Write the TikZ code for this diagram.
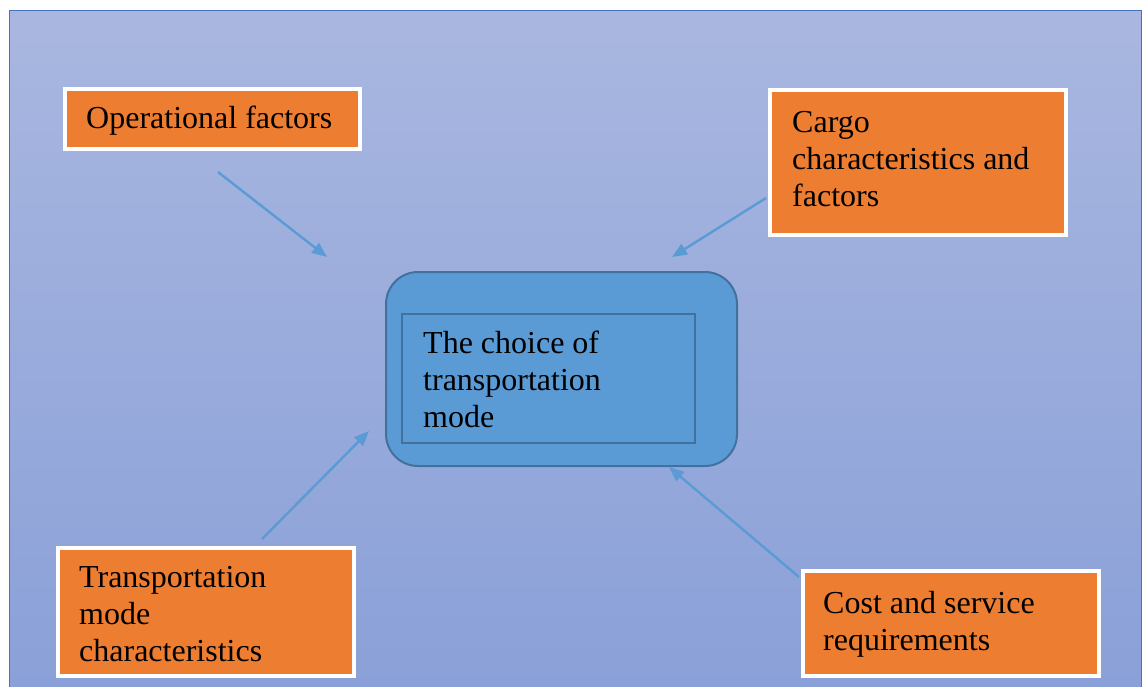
\documentclass[tikz,border=0pt]{standalone}
\usepackage{fontspec}
\setmainfont{Liberation Serif}
\usetikzlibrary{arrows.meta}
\definecolor{bgtop}{HTML}{A9B7E0}
\definecolor{bgbot}{HTML}{8AA0D8}
\definecolor{frame}{HTML}{4472C4}
\definecolor{orangebox}{HTML}{ED7D31}
\definecolor{centerfill}{HTML}{5B9BD5}
\definecolor{centerline}{HTML}{41719C}
\definecolor{arrowblue}{HTML}{5B9BD5}
\tikzset{
  factorbox/.style={draw=white, line width=3.5pt, fill=orangebox, inner sep=0pt},
  factortext/.style={anchor=base west, align=left, inner sep=0pt, font=\fontsize{32}{37}\selectfont, text=black},
  link/.style={draw=arrowblue, line width=2.4pt, -{Triangle[length=15pt,width=12pt]}},
}
\begin{document}
\begin{tikzpicture}[x=1pt,y=-1pt]
\useasboundingbox (0,0) rectangle (1147,686);
\fill[white] (0,0) rectangle (1147,686);
\shade[top color=bgtop, bottom color=bgbot] (9,10) rectangle (1141,690);
\draw[frame, line width=1pt] (9,690) -- (9,10) -- (1141,10) -- (1141,690);

% factor boxes (text anchored at the baseline of the last line)
\draw[factorbox] (65,89) rectangle (360,149);
\node[factortext] (op) at (86,128) {Operational factors};

\draw[factorbox] (770,90) rectangle (1066,235);
\node[factortext] (cargo) at (792,206) {Cargo\\characteristics and\\factors};

\draw[factorbox] (58,548) rectangle (354,676);
\node[factortext] (tm) at (79,661) {Transportation\\mode\\characteristics};

\draw[factorbox] (803,571) rectangle (1099,676);
\node[factortext] (cost) at (823,650) {Cost and service\\requirements};

% central node
\draw[draw=centerline, fill=centerfill, line width=2pt, rounded corners=32pt] (386,272) rectangle (737,466);
\draw[draw=centerline, line width=2pt] (402,314) rectangle (695,443);
\node[factortext] (choice) at (423,427) {The choice of\\transportation\\mode};

% arrows
\coordinate (a1s) at (218,172); \coordinate (a1e) at (327,257);
\coordinate (a2s) at (766,198); \coordinate (a2e) at (672,257);
\coordinate (a3s) at (262,539); \coordinate (a3e) at (369,431);
\coordinate (a4s) at (799,577); \coordinate (a4e) at (669,467);
\draw[link] (a1s) -- (a1e);
\draw[link] (a2s) -- (a2e);
\draw[link] (a3s) -- (a3e);
\draw[link] (a4s) -- (a4e);
\end{tikzpicture}
\end{document}
